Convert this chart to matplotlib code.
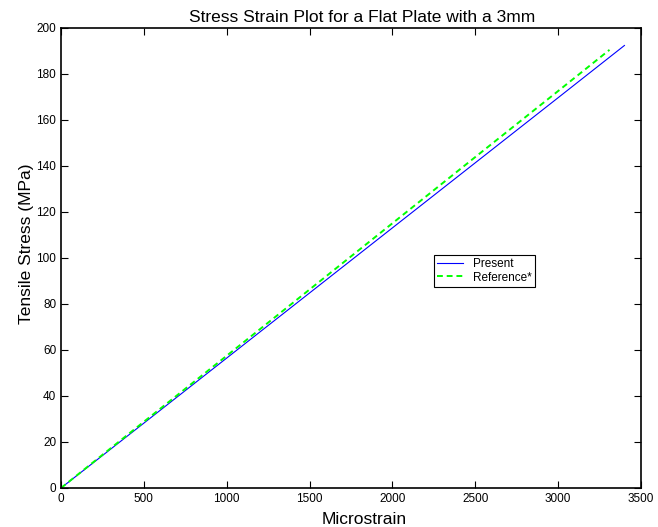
import matplotlib
matplotlib.use('Agg')
import matplotlib.pyplot as plt

plt.rcParams['font.family'] = ['Liberation Sans', 'DejaVu Sans']

# values
present_strain = [0, 500, 1000, 1500, 2000, 2500, 3000, 3400]
present_stress = [0, 28.2, 56.5, 84.8, 113.1, 141.4, 169.7, 192.4]
reference_strain = [0, 500, 1000, 1500, 2000, 2500, 3000, 3310]
reference_stress = [0, 28.8, 57.5, 86.3, 115.1, 143.9, 172.6, 190.5]

fig = plt.figure(figsize=(6.58, 5.27), dpi=100)
ax = fig.add_axes([61 / 658, 1 - 488 / 527, 580 / 658, 460 / 527])

ax.plot(present_strain, present_stress, color='blue', linewidth=0.8, label='Present')
ax.plot(reference_strain, reference_stress, color='#00ff00', linewidth=1.4,
        linestyle=(0, (3, 2)), label='Reference*')

ax.set_xlim(0, 3500)
ax.set_ylim(0, 200)
ax.set_xticks(range(0, 3501, 500))
ax.set_yticks(range(0, 201, 20))
ax.tick_params(direction='in', top=True, right=True, labelsize=8.5, length=5, width=0.8)
for s in ax.spines.values():
    s.set_linewidth(1.2)

ax.set_title('Stress Strain Plot for a Flat Plate with a 3mm', fontsize=12.5, pad=4, x=0.52)
ax.set_xlabel('Microstrain', fontsize=12.5, labelpad=2)
ax.xaxis.set_label_coords(0.522, -0.052)
ax.set_ylabel('Tensile Stress (MPa)', fontsize=12.5)
ax.yaxis.set_label_coords(-0.047, 0.53)

leg = ax.legend(loc='upper left', bbox_to_anchor=(0.643, 0.507), fontsize=8.5,
                frameon=True, fancybox=False, edgecolor='black', framealpha=1,
                handlelength=2.2, borderpad=0.3, labelspacing=0.1, borderaxespad=0)
leg.get_frame().set_linewidth(0.8)

fig.savefig('out.png', dpi=100)
